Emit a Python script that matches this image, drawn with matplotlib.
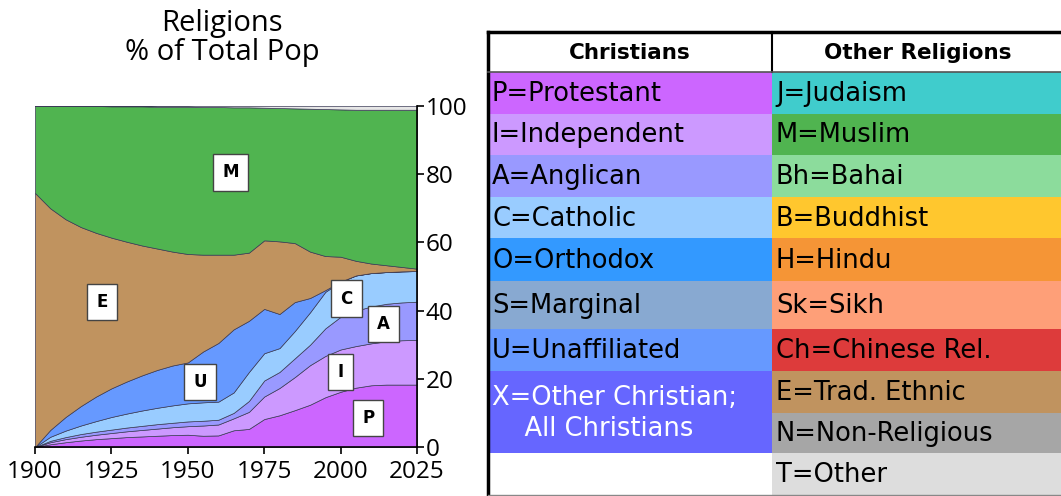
import numpy as np
import matplotlib
matplotlib.use("Agg")
import matplotlib.pyplot as plt
from matplotlib.patches import Rectangle

# years and cumulative layer tops (% of total population)
years = [1900, 1905, 1910, 1915, 1920, 1925, 1930, 1935, 1940, 1945, 1950, 1955, 1960,
         1965, 1970, 1975, 1980, 1985, 1990, 1995, 2000, 2005, 2010, 2015, 2020, 2025]
p_top = [0, 0.8, 1.4, 1.9, 2.3, 2.6, 2.9, 3.1, 3.3, 3.5, 3.6, 3.3, 3.4,
         4.9, 5.3, 8.2, 9.3, 10.8, 12.4, 14.6, 16.2, 17.4, 18.1, 18.3, 18.3, 18.3]
i_top = [0, 1.4, 2.3, 3.0, 3.6, 4.1, 4.6, 5.0, 5.4, 5.8, 6.1, 6.3, 6.6,
         8.4, 10.3, 14.8, 17.3, 20.5, 24.0, 26.7, 28.6, 29.6, 30.4, 31.0, 31.3, 31.4]
a_top = [0, 1.8, 2.9, 3.8, 4.5, 5.1, 5.7, 6.2, 6.7, 7.1, 7.5, 7.7, 8.0,
         10.0, 13.5, 19.5, 22.0, 26.0, 30.0, 34.8, 38.2, 40.0, 41.2, 42.0, 42.4, 42.6]
c_top = [0, 3.0, 4.8, 6.3, 7.6, 8.8, 9.8, 10.7, 11.5, 12.2, 12.8, 13.1, 13.3,
         16.0, 22.0, 27.5, 29.0, 34.0, 39.5, 45.5, 48.5, 50.3, 51.0, 51.3, 51.5, 51.6]
u_top = [0, 5.0, 8.8, 12.0, 14.8, 17.2, 19.2, 21.0, 22.6, 23.9, 24.8, 28.0, 30.5,
         34.5, 37.0, 40.5, 39.0, 42.5, 43.7, 46.0, 48.5, 50.3, 51.0, 51.3, 51.5, 51.6]
e_top = [74.5, 70.0, 66.8, 64.5, 62.8, 61.4, 60.2, 59.1, 58.2, 57.3, 56.6, 56.4, 56.4,
         56.4, 57.0, 60.6, 60.3, 59.8, 57.3, 56.0, 55.8, 54.6, 53.8, 53.3, 52.8, 52.3]
m_top = [100, 100, 100, 100, 100, 99.9, 99.9, 99.9, 99.8, 99.8, 99.8, 99.7, 99.7,
         99.6, 99.6, 99.5, 99.4, 99.3, 99.2, 99.1, 99.0, 98.9, 98.9, 98.9, 98.9, 98.9]
t_top = [100] * len(years)

layers = [("P", p_top, "#cc66ff"), ("I", i_top, "#cc99ff"), ("A", a_top, "#9999ff"),
          ("C", c_top, "#99ccff"), ("U", u_top, "#6699ff"), ("E", e_top, "#c0935f"),
          ("M", m_top, "#50b450"), ("T", t_top, "#e6e6e6")]

# label letters and where they sit on the chart
label_names = ["M", "E", "U", "C", "A", "I", "P"]
label_x = [1964, 1922, 1954, 2002, 2014, 2000, 2009]
label_y = [80.5, 42.5, 19, 43.5, 36, 22, 8.5]

# legend table
christian_rows = ["P=Protestant", "I=Independent", "A=Anglican", "C=Catholic", "O=Orthodox",
                  "S=Marginal", "U=Unaffiliated", "X=Other Christian;\n    All Christians", ""]
christian_colors = ["#cc66ff", "#cc99ff", "#9999ff", "#99ccff", "#3399ff",
                    "#88a9d1", "#6699ff", "#6666ff", "#ffffff"]
other_rows = ["J=Judaism", "M=Muslim", "Bh=Bahai", "B=Buddhist", "H=Hindu", "Sk=Sikh",
              "Ch=Chinese Rel.", "E=Trad. Ethnic", "N=Non-Religious", "T=Other"]
other_colors = ["#40cccc", "#50b450", "#8cdc9c", "#ffc72e", "#f59536", "#fe9f78",
                "#dd3b3b", "#c0935f", "#a6a6a6", "#dddddd"]

fig = plt.figure(figsize=(10.61, 4.96), dpi=100)

ax = fig.add_axes([35 / 1061, 49 / 496, 382 / 1061, 341 / 496])
x = np.array(years)
prev = np.zeros(len(years))
for name, top, color in layers:
    top = np.array(top, dtype=float)
    ax.fill_between(x, prev, top, facecolor=color, edgecolor="#3a3a55", linewidth=0.5)
    prev = top

for name, lx, ly in zip(label_names, label_x, label_y):
    ax.text(lx, ly, name, ha="center", va="center", fontsize=12, fontweight="bold",
            family="DejaVu Sans",
            bbox=dict(boxstyle="square,pad=0.55", facecolor="white", edgecolor="#444444",
                      linewidth=1))

ax.set_xlim(1900, 2025)
ax.set_ylim(0, 100)
ax.set_xticks([1900, 1925, 1950, 1975, 2000, 2025])
ax.set_yticks([0, 20, 40, 60, 80, 100])
ax.yaxis.tick_right()
for s in ["left", "top"]:
    ax.spines[s].set_visible(False)
ax.spines["right"].set_linewidth(1.2)
ax.spines["bottom"].set_linewidth(1.2)
ax.tick_params(axis="both", direction="out", length=5, width=1.2, labelsize=17.5, pad=1)
ax.tick_params(axis="x", pad=4)
for lab in ax.get_xticklabels() + ax.get_yticklabels():
    lab.set_family("Open Sans")

fig.text(222 / 1061, 1 - 38 / 496, "Religions\n% of Total Pop", ha="center", va="center",
         fontsize=21, family="Open Sans", linespacing=1.0)

# table drawn in pixel coordinates
tab = fig.add_axes([0, 0, 1, 1])
tab.set_xlim(0, 1061)
tab.set_ylim(496, 0)
tab.axis("off")

left, mid, right = 488, 772, 1061
head_top, head_bot = 32, 72
c_bounds = [72, 114, 155, 197, 238, 281, 329, 371, 453, 495]
o_bounds = [72, 114, 155, 197, 238, 281, 329, 371, 413, 453, 495]

for i, (txt, col) in enumerate(zip(christian_rows, christian_colors)):
    y0, y1 = c_bounds[i], c_bounds[i + 1]
    tab.add_patch(Rectangle((left, y0), mid - left, y1 - y0, facecolor=col, edgecolor="none"))
    if txt:
        tcol = "white" if txt.startswith("X") else "black"
        tab.text(left + 4, (y0 + y1) / 2 + 1, txt, ha="left", va="center", fontsize=18.5,
                 color=tcol, family="DejaVu Sans", linespacing=1.25)

for i, (txt, col) in enumerate(zip(other_rows, other_colors)):
    y0, y1 = o_bounds[i], o_bounds[i + 1]
    tab.add_patch(Rectangle((mid, y0), right - mid, y1 - y0, facecolor=col, edgecolor="none"))
    tab.text(mid + 4, (y0 + y1) / 2 + 1, txt, ha="left", va="center", fontsize=18.5,
             color="black", family="DejaVu Sans")

tab.text((left + mid) / 2, (head_top + head_bot) / 2 + 1, "Christians", ha="center",
         va="center", fontsize=15.5, fontweight="bold", family="DejaVu Sans")
tab.text((mid + right) / 2 + 1, (head_top + head_bot) / 2 + 1, "Other Religions", ha="center",
         va="center", fontsize=15.5, fontweight="bold", family="DejaVu Sans")

tab.plot([left, right], [head_top, head_top], color="black", lw=2.5)
tab.plot([left, left], [head_top, 495], color="black", lw=2.5)
tab.plot([mid, mid], [head_top, head_bot], color="black", lw=1.5)
tab.plot([left, right], [head_bot, head_bot], color="#555555", lw=1.2)
tab.plot([left, right], [495, 495], color="#888888", lw=1)

fig.savefig("out.png", dpi=100)
